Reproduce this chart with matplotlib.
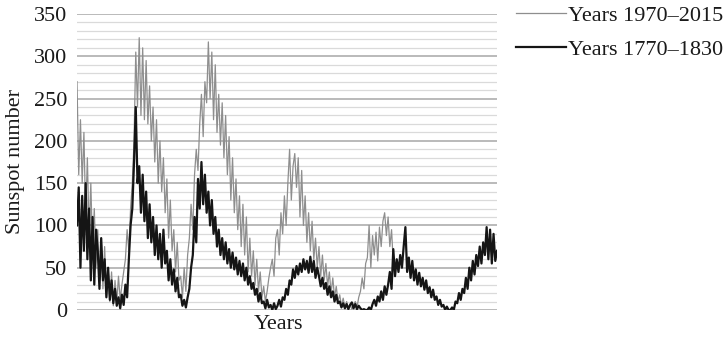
import matplotlib
matplotlib.use("Agg")
import matplotlib.pyplot as plt
from matplotlib.ticker import MultipleLocator
import numpy as np

# Quarterly sunspot numbers (four values per year)
recent_label = "Years 1970\u20132015"
recent = [
    270, 160, 225, 150,  210, 110, 180, 90,  150, 70, 120, 50,  95, 35, 85, 25,
    75, 15, 50, 10,  45, 5, 35, 8,  40, 12, 30, 45,  60, 95, 70, 120,
    150, 200, 305, 240,  322, 230, 310, 225,  295, 220, 265, 200,  240, 175, 225, 150,
    200, 140, 180, 115,  155, 85, 130, 70,  95, 45, 80, 35,  40, 15, 50, 22,
    65, 85, 125, 95,  160, 190, 165, 220,  255, 205, 270, 245,  317, 250, 305, 225,
    290, 210, 255, 195,  245, 180, 230, 160,  205, 130, 180, 115,  155, 95, 135, 75,
    125, 65, 110, 45,  85, 40, 70, 30,  60, 22, 45, 15,  28, 10, 22, 38,
    50, 60, 40, 85,  95, 65, 115, 90,  135, 100, 150, 190,  130, 170, 185, 145,
    180, 110, 165, 100,  135, 80, 115, 70,  105, 60, 85, 50,  75, 40, 65, 35,
    55, 28, 45, 20,  38, 15, 28, 10,  18, 5, 14, 3,  10, 2, 7, 1,
    6, 10, 3, 15,  22, 38, 25, 55,  62, 100, 50, 88,  65, 92, 58, 98,
    75, 105, 115, 88,  110, 75, 95, 55,
]

early_label = "Years 1770\u20131830"
early = [
    100, 145, 50, 135,  70, 150, 60, 120,  35, 110, 30, 95,  70, 25, 85, 35,
    60, 15, 50, 12,  35, 8, 25, 5,  15, 2, 18, 6,  30, 15, 60, 100,
    120, 175, 240, 150,  170, 115, 160, 105,  140, 85, 125, 80,  110, 65, 100, 60,
    90, 50, 95, 55,  70, 35, 60, 30,  48, 22, 38, 15,  18, 5, 12, 3,
    15, 25, 50, 65,  110, 80, 155, 120,  175, 125, 160, 115,  140, 100, 130, 90,
    110, 75, 95, 65,  85, 60, 80, 55,  72, 50, 68, 48,  62, 42, 58, 40,
    55, 35, 50, 30,  40, 25, 32, 18,  25, 10, 20, 8,  10, 2, 12, 3,
    6, 0, 8, 1,  5, 12, 4, 15,  12, 25, 18, 35,  30, 48, 38, 52,
    42, 55, 45, 60,  48, 58, 44, 63,  45, 58, 38, 50,  40, 28, 38, 25,
    32, 18, 28, 15,  22, 10, 18, 8,  10, 3, 8, 2,  7, 1, 6, 9,
    2, 7, 1, 5,  2, 0, 1, 0,  0, 3, 0, 7,  12, 5, 16, 10,
    22, 12, 28, 18,  30, 45, 25, 72,  40, 60, 45, 65,  50, 75, 98, 45,
    62, 38, 58, 35,  48, 30, 44, 28,  38, 24, 35, 20,  27, 15, 24, 12,
    16, 6, 12, 4,  6, 0, 4, 0,  0, 3, 0, 10,  8, 20, 12, 25,
    20, 38, 25, 50,  35, 58, 42, 65,  52, 75, 55, 80,  65, 98, 60, 95,
    55, 90, 58, 70,
]

y_max = 350
y_major = 50
y_minor = 10

plt.rcParams["font.family"] = ["Liberation Serif", "DejaVu Serif"]
text_color = "#1a1a1a"
fs = 16

fig = plt.figure(figsize=(7.23, 3.38), dpi=100)
ax = fig.add_axes([77 / 723, 1 - 310 / 338, 420 / 723, 296 / 338])

ax.plot(np.arange(len(recent)), recent, color="#8e8e8e", lw=0.9, label=recent_label)
ax.plot(np.arange(len(early)), early, color="#151515", lw=1.6, label=early_label)

ax.set_xlim(0, len(early) - 1)
ax.set_ylim(0, y_max)
ax.yaxis.set_major_locator(MultipleLocator(y_major))
ax.yaxis.set_minor_locator(MultipleLocator(y_minor))
ax.grid(which="major", axis="y", color="#b4b4b4", lw=1.3)
ax.grid(which="minor", axis="y", color="#dadada", lw=0.9)
ax.set_axisbelow(True)
for s in ax.spines.values():
    s.set_visible(False)
ax.set_xticks([])
ax.tick_params(axis="y", which="both", length=0, pad=7, labelsize=fs, colors=text_color)

ax.set_ylabel("Sunspot number", fontsize=fs, color=text_color)
ax.yaxis.set_label_coords(-0.146, 0.5)
ax.yaxis.label.set_va("center")
ax.set_xlabel("Years", fontsize=fs, color=text_color)
ax.xaxis.set_label_coords(0.48, -0.018)
ax.xaxis.label.set_va("top")

ax.legend(loc="upper left", bbox_to_anchor=(516 / 723, 1 - 5 / 338),
          bbox_transform=fig.transFigure, frameon=False, fontsize=fs,
          handlelength=2.25, handletextpad=0.1, labelspacing=0.62,
          borderpad=0.0, borderaxespad=0.0, labelcolor=text_color)

fig.savefig("out.png", dpi=100)
